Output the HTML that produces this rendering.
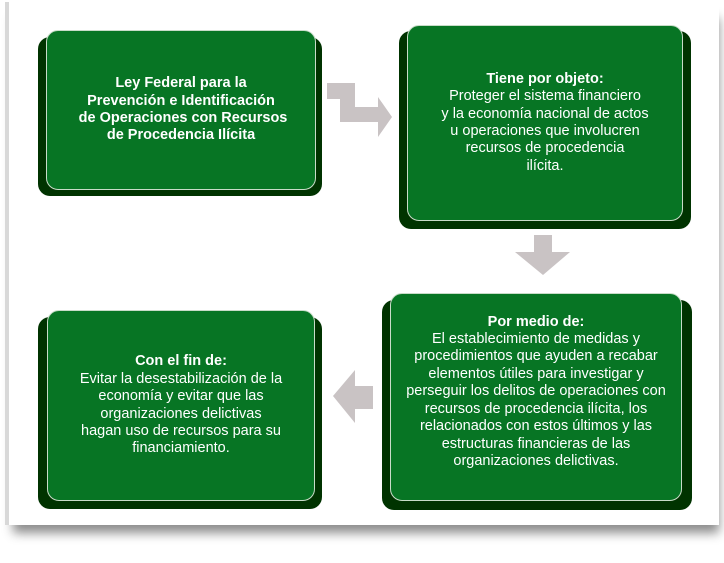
<!DOCTYPE html>
<html><head><meta charset="utf-8"><style>
html,body{margin:0;padding:0;background:#fff;width:724px;height:563px;overflow:hidden;position:relative;font-family:"Liberation Sans",sans-serif}
.card{position:absolute;left:5px;top:2px;width:710px;height:523px;background:#fff;border-left:4px solid #d8d8d8;box-shadow:4px 12px 10px -4px rgba(0,0,0,0.45)}
.sh{position:absolute;background:#003300;border-radius:12px}
.bx{position:absolute;background:#077524;border-radius:12px;border:1.5px solid #c8dcc8;box-sizing:border-box;color:#fff;text-align:center;font-size:14.5px;line-height:17.4px;display:flex;flex-direction:column;justify-content:center;align-items:center;white-space:nowrap}
.bx b{font-weight:bold}
</style></head><body>
<div class="card"></div>

<div class="sh" style="left:38px;top:37px;width:284px;height:159px"></div>
<div class="bx" style="left:46px;top:30px;width:270px;height:160px;font-weight:bold"><div>Ley Federal para la<br>Prevención e Identificación<br>&nbsp;de Operaciones con Recursos<br>de Procedencia Ilícita</div></div>

<div class="sh" style="left:399px;top:31px;width:292px;height:198px"></div>
<div class="bx" style="left:407px;top:25px;width:276px;height:196px"><div><b>Tiene por objeto:</b><br>Proteger el sistema financiero<br>y la economía nacional de actos<br>u operaciones que involucren<br>recursos de procedencia<br>ilícita.</div></div>

<div class="sh" style="left:382px;top:300px;width:310px;height:210px"></div>
<div class="bx" style="left:390px;top:293px;width:292px;height:208px;padding-bottom:10px"><div><b>Por medio de:</b><br>El establecimiento de medidas y<br>procedimientos que ayuden a recabar<br>elementos útiles para investigar y<br>perseguir los delitos de operaciones con<br>recursos de procedencia ilícita, los<br>relacionados con estos últimos y las<br>estructuras financieras de las<br>organizaciones delictivas.</div></div>

<div class="sh" style="left:38px;top:317px;width:284px;height:192px"></div>
<div class="bx" style="left:47px;top:310px;width:268px;height:191px"><div><b>Con el fin de:</b><br>Evitar la desestabilización de la<br>economía y evitar que las<br>organizaciones delictivas<br>hagan uso de recursos para su<br>financiamiento.</div></div>

<svg width="724" height="563" style="position:absolute;left:0;top:0">
<polygon fill="#c9c3c4" points="327,83 355,83 355,107 378,107 378,97 392,117 378,137 378,122 340,122 340,99 327,99"/>
<polygon fill="#c9c3c4" points="534,235 552,235 552,252 570,252 543,275 515,252 534,252"/>
<polygon fill="#c9c3c4" points="373,386 355,386 355,370 333,396 355,423 355,409 373,409"/>
</svg>
</body></html>
